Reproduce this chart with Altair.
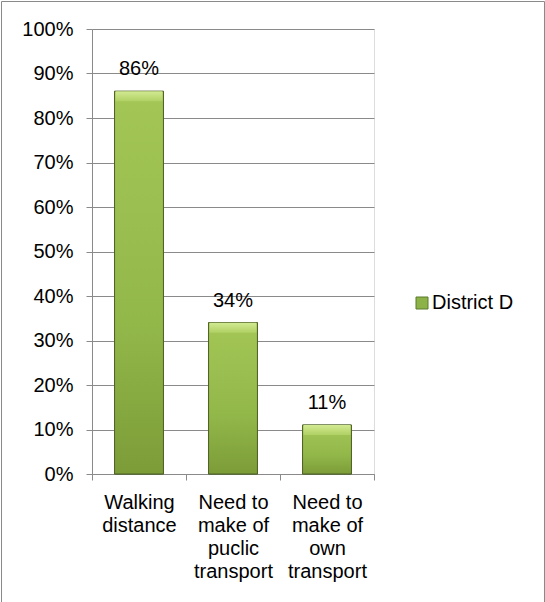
import json
import altair as alt
import pandas as pd

# ---- data ----
categories = ["Walking distance", "Need to make of puclic transport", "Need to make of own transport"]
label_lines = [["Walking", "distance"], ["Need to", "make of", "puclic", "transport"], ["Need to", "make of", "own", "transport"]]
values = [0.86, 0.34, 0.11]
series_name = "District D"
y_ticks = [0, 0.1, 0.2, 0.3, 0.4, 0.5, 0.6, 0.7, 0.8, 0.9, 1.0]

df = pd.DataFrame({"category": categories, "value": values, "series": [series_name] * len(categories)})

FONT = "Liberation Sans"
GRID = "#8a8a8a"

parts = [f"datum.value === {json.dumps(c)} ? {json.dumps(l)}" for c, l in zip(categories, label_lines)]
label_expr = " : ".join(parts) + " : datum.value"

x_enc = alt.X(
    "category:N", sort=categories,
    scale=alt.Scale(paddingInner=0, paddingOuter=0),
    axis=alt.Axis(title=None, labelExpr=label_expr, labelAngle=0, labelFontSize=20, labelFont=FONT,
                  labelColor="black", labelLineHeight=23, labelBaseline="top", labelPadding=12,
                  tickBand="extent", ticks=True, tickSize=6, tickColor=GRID, domainColor=GRID,
                  grid=False, labelLimit=0),
)
y_enc = alt.Y(
    "value:Q", scale=alt.Scale(domain=[0, 1], nice=False),
    axis=alt.Axis(title=None, values=y_ticks, format=".0%", labelFontSize=20, labelFont=FONT,
                  labelColor="black", labelPadding=13, tickSize=6, tickColor=GRID, domainColor=GRID,
                  gridColor=GRID, grid=True),
)

base = alt.Chart(df)
bw = alt.RelativeBandSize(0.52)

under = base.mark_bar(width=bw, stroke="#4f6228", strokeWidth=1).encode(
    x=x_enc, y=y_enc,
    fill=alt.Fill("series:N", scale=alt.Scale(range=["#8db348"]),
                  legend=alt.Legend(title=None, orient="none", legendX=320, legendY=264,
                                    symbolType="square", symbolSize=144, symbolStrokeColor="#5a7a2a",
                                    symbolStrokeWidth=1, symbolFillColor="#8db348",
                                    labelFontSize=20, labelFont=FONT, labelColor="black", labelOffset=0)),
)

body = base.mark_bar(
    width=bw, stroke="#4f6228", strokeWidth=1,
    fill=alt.LinearGradient(gradient="linear", x1=0, x2=0, y1=0, y2=1, stops=[
        alt.GradientStop(color="#a3c656", offset=0),
        alt.GradientStop(color="#93b84a", offset=0.6),
        alt.GradientStop(color="#7c9c38", offset=1),
    ]),
).encode(x=x_enc, y=y_enc, y2=alt.datum(0))

bevel = base.mark_bar(
    width=alt.RelativeBandSize(0.50), y2Offset=10,
    fill=alt.LinearGradient(gradient="linear", x1=0, x2=0, y1=0, y2=1, stops=[
        alt.GradientStop(color="#d2ea92", offset=0),
        alt.GradientStop(color="#b0d064", offset=1),
    ]),
).encode(x=x_enc, y=alt.Y("value:Q"), y2=alt.Y2("value:Q"))

labels = base.mark_text(dy=-16, baseline="alphabetic", fontSize=20, font=FONT, color="black").encode(
    x=x_enc, y=alt.Y("value:Q"), text=alt.Text("value:Q", format=".0%"),
)

frame = alt.Chart(pd.DataFrame({"a": [0]})).mark_rect(fill="transparent", stroke="#8a8a8a", strokeWidth=1).encode(
    x=alt.value(-90.5), x2=alt.value(452.5), y=alt.value(-27.5), y2=alt.value(600),
)

chart = alt.layer(frame, under, body, bevel, labels).properties(
    width=282, height=445,
    autosize=alt.AutoSizeParams(type="none"),
    padding={"left": 92, "top": 29, "right": 171, "bottom": 128},
).configure_view(stroke=None).configure(background="white")

chart.save("out.html", embed_options={"renderer": "svg", "actions": False})
